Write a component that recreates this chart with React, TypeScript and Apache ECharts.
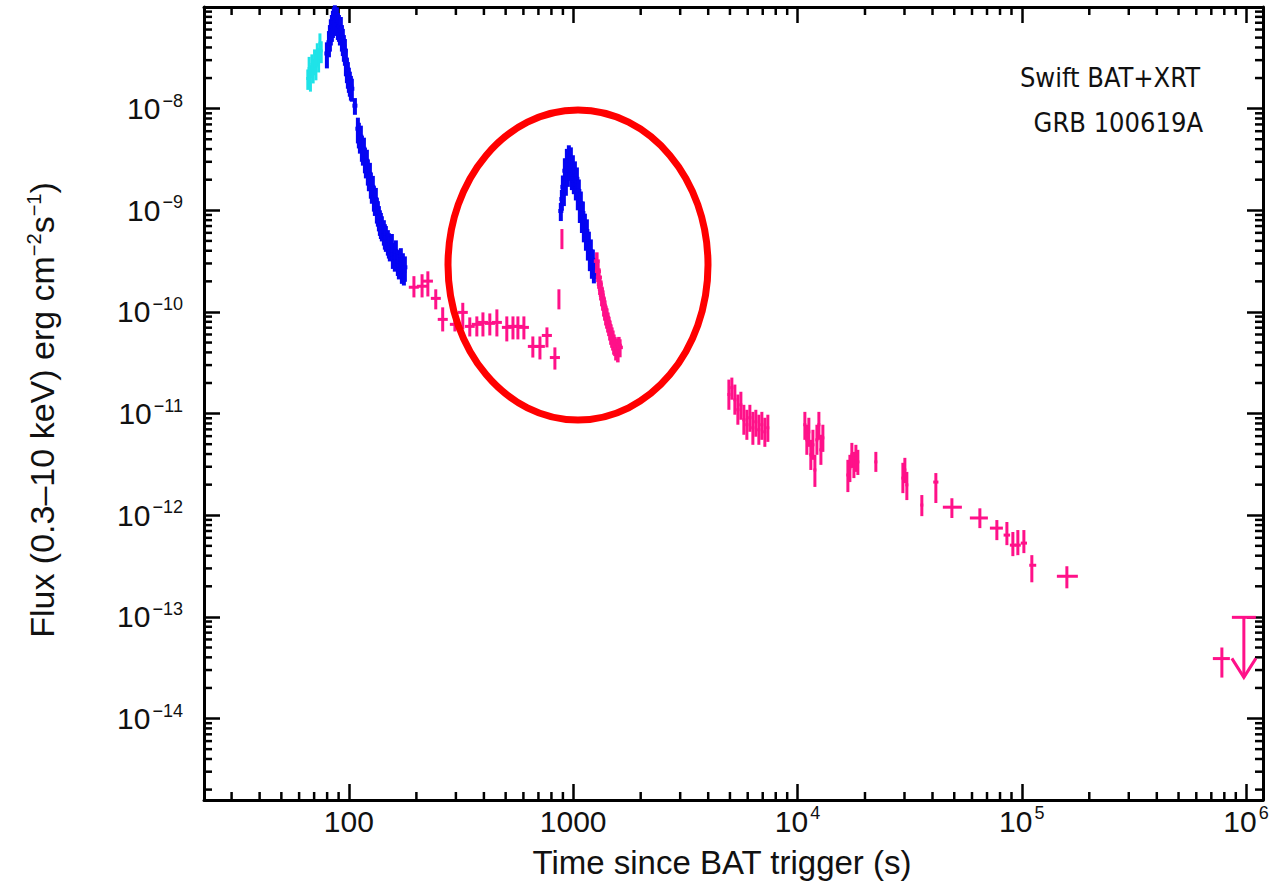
import React, { useEffect, useRef } from "react";
import * as echarts from "echarts";

// ---------- axis ranges & tick labels ----------
const X_MIN = 22.6;
const X_MAX = 1.19e6;
const Y_MIN = 1.58e-15;
const Y_MAX = 1e-7;

const xTickLabels: [number, string, string][] = [
  [100, "100", ""],
  [1000, "1000", ""],
  [1e4, "10", "4"],
  [1e5, "10", "5"],
  [1e6, "10", "6"],
];
const yTickLabels: [number, string, string][] = [
  [1e-8, "10", "−8"],
  [1e-9, "10", "−9"],
  [1e-10, "10", "−10"],
  [1e-11, "10", "−11"],
  [1e-12, "10", "−12"],
  [1e-13, "10", "−13"],
  [1e-14, "10", "−14"],
];
const minorMultipliers = [2, 3, 4, 5, 6, 7, 8, 9];
const xDecades = [10, 100, 1000, 1e4, 1e5, 1e6];
const yDecades = [1e-16, 1e-15, 1e-14, 1e-13, 1e-12, 1e-11, 1e-10, 1e-9, 1e-8];

// ---------- data ----------
// BAT (cyan): [t, F, dF]
const batData = [
  [65.6, 1.98e-8, 0.45e-8],
  [66.5, 2.48e-8, 0.75e-8],
  [67.4, 2.07e-8, 0.6e-8],
  [68.4, 2.72e-8, 0.7e-8],
  [69.3, 2.37e-8, 0.6e-8],
  [70.3, 2.98e-8, 0.85e-8],
  [71.3, 2.6e-8, 0.7e-8],
  [72.3, 3.5e-8, 0.9e-8],
  [73.3, 3.12e-8, 0.85e-8],
  [74.3, 4.4e-8, 1.1e-8],
  [75.3, 3.7e-8, 0.9e-8],
];

// XRT WT (blue), early pulse + decay: [t, F, dF]
const wtData = [
  [79.8, 3.49e-8, 1.0e-8],
  [81.5, 4.5e-8, 1.3e-8],
  [82.3, 5.14e-8, 1.5e-8],
  [83.1, 5.88e-8, 1.7e-8],
  [84.0, 6.44e-8, 1.9e-8],
  [84.9, 7.06e-8, 2.1e-8],
  [85.7, 7.73e-8, 2.2e-8],
  [86.6, 8.1e-8, 2.3e-8],
  [87.5, 7.39e-8, 2.2e-8],
  [88.4, 7.73e-8, 2.2e-8],
  [89.3, 6.74e-8, 2.0e-8],
  [90.3, 6.44e-8, 1.9e-8],
  [91.2, 5.88e-8, 1.7e-8],
  [92.1, 6.17e-8, 1.8e-8],
  [93.1, 5.14e-8, 1.5e-8],
  [94.0, 4.69e-8, 1.4e-8],
  [95.0, 4.09e-8, 1.2e-8],
  [96.0, 3.74e-8, 1.1e-8],
  [97.0, 2.98e-8, 0.9e-8],
  [98.0, 2.48e-8, 0.7e-8],
  [99.0, 2.22e-8, 0.65e-8],
  [100, 1.98e-8, 0.55e-8],
  [101, 1.81e-8, 0.5e-8],
  [102.1, 1.65e-8, 0.45e-8],
  [103.1, 1.57e-8, 0.4e-8],
  [106.4, 1.07e-8, 0.2e-8],
  [109.7, 6.35e-9, 1.8e-9],
  [110.8, 5.66e-9, 1.6e-9],
  [112.0, 5.06e-9, 1.45e-9],
  [113.1, 5.3e-9, 1.5e-9],
  [114.3, 4.2e-9, 1.2e-9],
  [115.5, 3.85e-9, 1.1e-9],
  [116.7, 4.03e-9, 1.15e-9],
  [117.9, 3.21e-9, 0.9e-9],
  [119.1, 2.86e-9, 0.8e-9],
  [120.3, 3.07e-9, 0.87e-9],
  [121.5, 2.45e-9, 0.7e-9],
  [122.8, 2.14e-9, 0.6e-9],
  [124.1, 2.28e-9, 0.65e-9],
  [125.3, 1.82e-9, 0.52e-9],
  [126.6, 1.62e-9, 0.46e-9],
  [127.9, 1.7e-9, 0.48e-9],
  [129.3, 1.35e-9, 0.38e-9],
  [130.6, 1.23e-9, 0.35e-9],
  [131.9, 1.29e-9, 0.37e-9],
  [133.3, 1.03e-9, 0.29e-9],
  [134.7, 9.6e-10, 2.7e-10],
  [136.1, 8.6e-10, 2.4e-10],
  [137.5, 7.8e-10, 2.2e-10],
  [138.9, 7.32e-10, 2.1e-10],
  [140.3, 6.84e-10, 1.9e-10],
  [143.2, 6.24e-10, 1.75e-10],
  [144.7, 5.7e-10, 1.6e-10],
  [146.2, 5.45e-10, 1.55e-10],
  [149.2, 4.98e-10, 1.4e-10],
  [150.8, 4.65e-10, 1.3e-10],
  [152.3, 4.34e-10, 1.2e-10],
  [155.5, 4.55e-10, 1.3e-10],
  [157.1, 3.7e-10, 1.05e-10],
  [160.3, 3.46e-10, 0.97e-10],
  [162.0, 3.96e-10, 1.1e-10],
  [165.3, 3.16e-10, 0.9e-10],
  [167.1, 2.89e-10, 0.8e-10],
  [170.5, 3.31e-10, 0.93e-10],
  [172.3, 2.63e-10, 0.74e-10],
  [174.1, 2.95e-10, 0.83e-10],
  [175.9, 2.52e-10, 0.7e-10],
  [177.7, 2.75e-10, 0.77e-10],
];

// XRT WT (blue), late flare: [t, F, dF]
const wtFlareData = [
  [881, 9.84e-10, 2.0e-10],
  [890.5, 1.29e-9, 0.3e-9],
  [899.7, 1.7e-9, 0.5e-9],
  [909, 1.55e-9, 0.45e-9],
  [918.3, 2.45e-9, 0.8e-9],
  [927.8, 2.04e-9, 0.65e-9],
  [937.4, 3.07e-9, 0.95e-9],
  [947, 2.45e-9, 0.75e-9],
  [956.8, 3.36e-9, 1.0e-9],
  [966.7, 2.8e-9, 0.85e-9],
  [976.7, 3.21e-9, 0.95e-9],
  [986.8, 2.23e-9, 0.65e-9],
  [997, 2.68e-9, 0.8e-9],
  [1007, 2.04e-9, 0.6e-9],
  [1018, 2.33e-9, 0.7e-9],
  [1028, 1.78e-9, 0.53e-9],
  [1039, 2.04e-9, 0.6e-9],
  [1049, 1.42e-9, 0.42e-9],
  [1060, 1.55e-9, 0.46e-9],
  [1071, 1.07e-9, 0.32e-9],
  [1082, 1.18e-9, 0.35e-9],
  [1094, 8.58e-10, 2.6e-10],
  [1105, 9.4e-10, 2.8e-10],
  [1116, 6.84e-10, 2.0e-10],
  [1128, 7.16e-10, 2.1e-10],
  [1140, 5.7e-10, 1.7e-10],
  [1151, 6.25e-10, 1.9e-10],
  [1163, 4.55e-10, 1.35e-10],
  [1175, 4.76e-10, 1.4e-10],
  [1187, 3.62e-10, 1.1e-10],
  [1199, 3.97e-10, 1.2e-10],
  [1212, 3.02e-10, 0.9e-10],
  [1224, 3.16e-10, 0.95e-10],
  [1237, 2.51e-10, 0.6e-10],
  [1250, 2.76e-10, 0.65e-10],
];

// XRT PC (pink), flare tail: [t, F, dF]
const pcTailData = [
  [1275, 3.16e-10, 0.7e-10],
  [1289, 2.51e-10, 0.55e-10],
  [1302, 2.19e-10, 0.5e-10],
  [1315, 1.87e-10, 0.4e-10],
  [1329, 1.67e-10, 0.37e-10],
  [1342, 1.46e-10, 0.32e-10],
  [1356, 1.33e-10, 0.3e-10],
  [1370, 1.16e-10, 0.26e-10],
  [1384, 1.06e-10, 0.24e-10],
  [1399, 9.46e-11, 2.1e-11],
  [1413, 8.84e-11, 2.0e-11],
  [1428, 8.07e-11, 1.8e-11],
  [1443, 7.38e-11, 1.6e-11],
  [1458, 6.73e-11, 1.5e-11],
  [1473, 6.15e-11, 1.4e-11],
  [1488, 5.74e-11, 1.3e-11],
  [1503, 5.37e-11, 1.2e-11],
  [1519, 4.9e-11, 1.1e-11],
  [1535, 4.68e-11, 1.0e-11],
  [1551, 4.28e-11, 0.95e-11],
  [1567, 4.48e-11, 1.0e-11],
  [1582, 4.09e-11, 0.9e-11],
  [1599, 4.68e-11, 1.0e-11],
  [1615, 4.48e-11, 0.9e-11],
];

// XRT PC (pink) crosses: [t, tLo, tHi, F, FLo, FHi]
const pcData = [
  [195, 185, 205, 1.75e-10, 1.39e-10, 2.25e-10],
  [212, 201, 223, 1.79e-10, 1.39e-10, 2.35e-10],
  [225, 214, 237, 2.01e-10, 1.42e-10, 2.51e-10],
  [244, 232, 257, 1.36e-10, 1.06e-10, 1.67e-10],
  [262, 249, 276, 8.45e-11, 6.43e-11, 1.11e-10],
  [297, 282, 313, 7.55e-11, 6.43e-11, 8.84e-11],
  [322, 306, 339, 9.9e-11, 6.73e-11, 1.23e-10],
  [346, 329, 364, 7.21e-11, 5.74e-11, 8.84e-11],
  [372, 353, 392, 7.55e-11, 5.74e-11, 9.04e-11],
  [396, 376, 417, 7.89e-11, 5.74e-11, 9.9e-11],
  [425, 404, 448, 7.72e-11, 5.87e-11, 9.67e-11],
  [457, 434, 481, 7.89e-11, 5.74e-11, 1.06e-10],
  [506, 481, 533, 7.05e-11, 5.13e-11, 9.04e-11],
  [539, 512, 567, 7.21e-11, 5.37e-11, 9.04e-11],
  [567, 539, 597, 7.21e-11, 5.37e-11, 9.04e-11],
  [603, 573, 635, 7.05e-11, 5.37e-11, 9.04e-11],
  [661, 628, 696, 4.58e-11, 3.56e-11, 5.74e-11],
  [711, 675, 748, 4.58e-11, 3.41e-11, 5.74e-11],
  [764, 725, 804, 5.87e-11, 4.48e-11, 7.05e-11],
  [829, 787, 873, 3.56e-11, 2.71e-11, 4.48e-11],
  [864, 859, 869, 1.33e-10, 1.06e-10, 1.67e-10],
  [891, 886, 896, 5.21e-10, 4.15e-10, 6.54e-10],
  [4946, 4870, 5020, 1.54e-11, 1.09e-11, 2.16e-11],
  [5099, 5020, 5180, 1.8e-11, 1.37e-11, 2.26e-11],
  [5259, 5180, 5340, 1.37e-11, 9.75e-12, 1.93e-11],
  [5424, 5340, 5510, 1.09e-11, 7.77e-12, 1.54e-11],
  [5594, 5510, 5680, 1.22e-11, 8.7e-12, 1.64e-11],
  [5768, 5680, 5860, 8.7e-12, 6.19e-12, 1.22e-11],
  [5949, 5860, 6040, 7.77e-12, 5.52e-12, 1.09e-11],
  [6135, 6040, 6230, 9.1e-12, 6.62e-12, 1.22e-11],
  [6327, 6230, 6420, 7.25e-12, 4.93e-12, 1.04e-11],
  [6523, 6420, 6620, 8.31e-12, 5.92e-12, 1.09e-11],
  [6728, 6620, 6830, 6.93e-12, 4.93e-12, 9.75e-12],
  [6938, 6830, 7040, 7.77e-12, 5.52e-12, 1.04e-11],
  [7155, 7040, 7260, 6.62e-12, 4.71e-12, 9.1e-12],
  [7379, 7260, 7490, 7.25e-12, 5.27e-12, 9.75e-12],
  [10790, 10620, 10960, 7.77e-12, 5.52e-12, 1.04e-11],
  [11010, 10840, 11180, 5.52e-12, 3.93e-12, 7.77e-12],
  [11240, 11070, 11410, 6.62e-12, 4.71e-12, 9.1e-12],
  [11470, 11300, 11640, 3.93e-12, 2.79e-12, 5.52e-12],
  [11720, 11540, 11900, 4.93e-12, 3.51e-12, 6.93e-12],
  [11960, 11780, 12140, 2.79e-12, 1.9e-12, 3.93e-12],
  [12210, 12020, 12400, 5.52e-12, 3.93e-12, 7.77e-12],
  [12460, 12270, 12650, 7.77e-12, 5.52e-12, 1.04e-11],
  [12720, 12520, 12920, 4.4e-12, 3.13e-12, 6.19e-12],
  [12980, 12780, 13180, 5.77e-12, 4.2e-12, 7.77e-12],
  [16780, 16520, 17040, 2.49e-12, 1.69e-12, 3.51e-12],
  [17130, 16870, 17390, 2.92e-12, 2.12e-12, 3.93e-12],
  [17480, 17210, 17750, 3.93e-12, 2.92e-12, 5.15e-12],
  [17850, 17580, 18120, 3.13e-12, 2.32e-12, 4.2e-12],
  [18220, 17940, 18500, 3.67e-12, 2.67e-12, 4.93e-12],
  [18590, 18300, 18880, 3.35e-12, 2.49e-12, 4.4e-12],
  [22360, 22020, 22700, 3.35e-12, 2.67e-12, 4.2e-12],
  [29510, 29060, 29960, 2.32e-12, 1.65e-12, 3.28e-12],
  [30120, 29660, 30580, 2.79e-12, 2.07e-12, 3.67e-12],
  [30740, 30270, 31210, 1.99e-12, 1.41e-12, 2.67e-12],
  [35850, 35300, 36400, 1.26e-12, 9.8e-13, 1.58e-12],
  [41400, 40300, 42500, 2.12e-12, 1.32e-12, 2.6e-12],
  [48810, 44480, 54080, 1.2e-12, 9.4e-13, 1.47e-12],
  [65050, 58700, 70630, 9.4e-13, 7.47e-13, 1.17e-12],
  [77450, 72100, 82400, 7.47e-13, 5.69e-13, 8.97e-13],
  [85850, 83000, 88700, 6.38e-13, 5.08e-13, 8.58e-13],
  [91270, 88500, 94100, 5.08e-13, 3.96e-13, 6.84e-13],
  [96070, 93000, 99000, 5.08e-13, 4.05e-13, 7.15e-13],
  [102200, 99000, 105500, 5.32e-13, 4.24e-13, 7.15e-13],
  [110900, 108000, 116000, 3.22e-13, 2.19e-13, 4.05e-13],
  [158900, 143400, 177900, 2.51e-13, 1.91e-13, 3.15e-13],
  [780200, 711200, 847000, 3.89e-14, 2.53e-14, 5.0e-14],
];

// Upper limits: [t, tLo, tHi, F]
const upperLimits = [[977700, 864600, 1106000, 9.9e-14]];

const CYAN = "#1fe3e8";
const BLUE = "#0505f2";
const PINK = "#ff1189";
const FONT = "'Liberation Sans', Arial, Helvetica, sans-serif";

function matchTick(list: [number, string, string][], v: number) {
  const lv = Math.log10(v);
  for (const item of list) {
    if (Math.abs(Math.log10(item[0]) - lv) < 1e-6) return item;
  }
  return null;
}

function fmt(list: [number, string, string][]) {
  return (v: number) => {
    const m = matchTick(list, v);
    if (!m) return "";
    return m[2] ? `{b|${m[1]}}{s|${m[2]}}` : `{b|${m[1]}}`;
  };
}

const labelRich = {
  b: { fontSize: 30, fontFamily: FONT, color: "#111", lineHeight: 34 },
  s: {
    fontSize: 18,
    fontFamily: FONT,
    color: "#111",
    lineHeight: 20,
    verticalAlign: "top",
    padding: [0, 0, 0, 2],
  },
};

function errBarRenderer(color: string, width: number, half: number) {
  return (params: any, api: any) => {
    const t = api.value(0);
    const f = api.value(1);
    const df = api.value(2);
    const c = api.coord([t, f]);
    const hi = api.coord([t, f + df]);
    const lo = api.coord([t, f - df]);
    return {
      type: "group",
      children: [
        {
          type: "line",
          shape: { x1: c[0], y1: hi[1], x2: c[0], y2: lo[1] },
          style: { stroke: color, lineWidth: width },
        },
        {
          type: "line",
          shape: { x1: c[0] - half, y1: c[1], x2: c[0] + half, y2: c[1] },
          style: { stroke: color, lineWidth: width },
        },
      ],
    };
  };
}

function crossRenderer(color: string) {
  return (params: any, api: any) => {
    const t = api.value(0);
    const f = api.value(3);
    const c = api.coord([t, f]);
    const l = api.coord([api.value(1), f]);
    const r = api.coord([api.value(2), f]);
    const lo = api.coord([t, api.value(4)]);
    const hi = api.coord([t, api.value(5)]);
    return {
      type: "group",
      children: [
        {
          type: "line",
          shape: { x1: c[0], y1: hi[1], x2: c[0], y2: lo[1] },
          style: { stroke: color, lineWidth: 3 },
        },
        {
          type: "line",
          shape: { x1: l[0], y1: c[1], x2: r[0], y2: c[1] },
          style: { stroke: color, lineWidth: 3 },
        },
      ],
    };
  };
}

export default function App() {
  const ref = useRef<HTMLDivElement>(null);

  useEffect(() => {
    if (!ref.current) return;
    const chart = echarts.init(ref.current, undefined, { renderer: "svg" });

    const xMinorTicks: number[] = [];
    xDecades.forEach((d) =>
      minorMultipliers.forEach((m) => {
        const v = d * m;
        if (v > X_MIN && v < X_MAX) xMinorTicks.push(v);
      })
    );
    const yMinorTicks: number[] = [];
    yDecades.forEach((d) =>
      minorMultipliers.forEach((m) => {
        const v = d * m;
        if (v > Y_MIN && v < Y_MAX) yMinorTicks.push(v);
      })
    );

    const MINOR = 8;
    const axisCommonX = {
      type: "log",
      logBase: 10,
      min: X_MIN,
      max: X_MAX,
      splitNumber: 5,
      splitLine: { show: false },
      axisLine: { show: true, onZero: false, lineStyle: { color: "#000", width: 3 } },
      axisTick: { show: true, inside: true, length: 16, lineStyle: { color: "#000", width: 2.5 } },
    };
    const axisCommonY = {
      type: "log",
      logBase: 10,
      min: Y_MIN,
      max: Y_MAX,
      splitNumber: 8,
      splitLine: { show: false },
      axisLine: { show: true, onZero: false, lineStyle: { color: "#000", width: 3 } },
      axisTick: { show: true, inside: true, length: 16, lineStyle: { color: "#000", width: 2.5 } },
    };

    const option: any = {
      animation: false,
      backgroundColor: "#ffffff",
      grid: { left: 204, right: 12, top: 7, bottom: 83, containLabel: false },
      xAxis: [
        {
          ...axisCommonX,
          position: "bottom",
          axisLabel: {
            show: true,
            margin: 4,
            formatter: fmt(xTickLabels),
            rich: labelRich,
            showMinLabel: false,
            showMaxLabel: true,
          },
        },
        { ...axisCommonX, position: "top", axisLabel: { show: false } },
      ],
      yAxis: [
        {
          ...axisCommonY,
          position: "left",
          axisLabel: {
            show: true,
            margin: 21,
            formatter: fmt(yTickLabels),
            rich: labelRich,
          },
        },
        { ...axisCommonY, position: "right", axisLabel: { show: false } },
      ],
      series: [
        {
          type: "custom",
          name: "xminor",
          silent: true,
          clip: false,
          data: xMinorTicks.map((v) => [v, 1e-10]),
          renderItem: (params: any, api: any) => {
            const cs = params.coordSys;
            const x = api.coord([api.value(0), 1e-10])[0];
            return {
              type: "group",
              children: [
                {
                  type: "line",
                  shape: { x1: x, y1: cs.y + cs.height, x2: x, y2: cs.y + cs.height - MINOR },
                  style: { stroke: "#000", lineWidth: 2.5 },
                },
                {
                  type: "line",
                  shape: { x1: x, y1: cs.y, x2: x, y2: cs.y + MINOR },
                  style: { stroke: "#000", lineWidth: 2.5 },
                },
              ],
            };
          },
        },
        {
          type: "custom",
          name: "yminor",
          silent: true,
          clip: false,
          data: yMinorTicks.map((v) => [1000, v]),
          renderItem: (params: any, api: any) => {
            const cs = params.coordSys;
            const y = api.coord([1000, api.value(1)])[1];
            return {
              type: "group",
              children: [
                {
                  type: "line",
                  shape: { x1: cs.x, y1: y, x2: cs.x + MINOR, y2: y },
                  style: { stroke: "#000", lineWidth: 2.5 },
                },
                {
                  type: "line",
                  shape: { x1: cs.x + cs.width, y1: y, x2: cs.x + cs.width - MINOR, y2: y },
                  style: { stroke: "#000", lineWidth: 2.5 },
                },
              ],
            };
          },
        },
        {
          type: "custom",
          name: "BAT",
          data: batData,
          encode: { x: 0, y: 1 },
          renderItem: errBarRenderer(CYAN, 3, 1.5),
        },
        {
          type: "custom",
          name: "XRT PC",
          data: pcData,
          encode: { x: 0, y: 3 },
          renderItem: crossRenderer(PINK),
        },
        {
          type: "custom",
          name: "XRT WT",
          data: wtData,
          encode: { x: 0, y: 1 },
          renderItem: errBarRenderer(BLUE, 4, 2.5),
        },
        {
          type: "custom",
          name: "XRT WT flare",
          data: wtFlareData,
          encode: { x: 0, y: 1 },
          renderItem: errBarRenderer(BLUE, 4, 2.5),
        },
        {
          type: "custom",
          name: "XRT PC tail",
          data: pcTailData,
          encode: { x: 0, y: 1 },
          renderItem: errBarRenderer(PINK, 3.5, 3),
        },
        {
          type: "custom",
          name: "Upper limit",
          data: upperLimits,
          encode: { x: 0, y: 3 },
          clip: false,
          renderItem: (params: any, api: any) => {
            const t = api.value(0);
            const f = api.value(3);
            const c = api.coord([t, f]);
            const l = api.coord([api.value(1), f]);
            const r = api.coord([api.value(2), f]);
            const len = 60;
            return {
              type: "group",
              children: [
                {
                  type: "line",
                  shape: { x1: l[0], y1: c[1], x2: r[0], y2: c[1] },
                  style: { stroke: PINK, lineWidth: 3 },
                },
                {
                  type: "line",
                  shape: { x1: c[0], y1: c[1], x2: c[0], y2: c[1] + len },
                  style: { stroke: PINK, lineWidth: 3 },
                },
                {
                  type: "polyline",
                  shape: {
                    points: [
                      [c[0] - 12, c[1] + len - 19],
                      [c[0], c[1] + len],
                      [c[0] + 12, c[1] + len - 19],
                    ],
                  },
                  style: { stroke: PINK, lineWidth: 3, fill: "none" },
                },
              ],
            };
          },
        },
      ],
      graphic: [
        {
          type: "ellipse",
          shape: { cx: 578, cy: 265, rx: 130, ry: 155 },
          style: { fill: "none", stroke: "#ff0000", lineWidth: 7 },
          z: 100,
        },
        {
          type: "text",
          x: 1200,
          y: 77,
          style: {
            text: "Swift BAT+XRT",
            fill: "#111",
            font: "27px 'Liberation Sans Narrow', 'DejaVu Sans Condensed', sans-serif",
            align: "right",
            verticalAlign: "middle",
            textAlign: "right",
            textVerticalAlign: "middle",
          },
          z: 100,
        },
        {
          type: "text",
          x: 1203,
          y: 122,
          style: {
            text: "GRB 100619A",
            fill: "#111",
            font: "27px 'Liberation Sans Narrow', 'DejaVu Sans Condensed', sans-serif",
            align: "right",
            verticalAlign: "middle",
            textAlign: "right",
            textVerticalAlign: "middle",
          },
          z: 100,
        },
        {
          type: "text",
          x: 722,
          y: 862,
          style: {
            text: "Time since BAT trigger (s)",
            fill: "#111",
            font: `33px ${FONT}`,
            align: "center",
            verticalAlign: "middle",
            textAlign: "center",
            textVerticalAlign: "middle",
          },
          z: 100,
        },
        {
          type: "text",
          x: 42,
          y: 410,
          rotation: Math.PI / 2,
          style: {
            text: "{t|Flux (0.3–10 keV) erg cm}{s|−2}{t|s}{s|−1}{t|)}",
            rich: {
              t: { fontSize: 34, fontFamily: FONT, fill: "#111", lineHeight: 36 },
              s: { fontSize: 20, fontFamily: FONT, fill: "#111", lineHeight: 22, verticalAlign: "top" },
            },
            align: "center",
            verticalAlign: "middle",
            textAlign: "center",
            textVerticalAlign: "middle",
          },
          z: 100,
        },
      ],
    };

    chart.setOption(option);
    return () => chart.dispose();
  }, []);

  return (
    <div
      ref={ref}
      style={{ position: "fixed", left: 0, top: 0, width: 1275, height: 883, background: "#fff" }}
    />
  );
}
